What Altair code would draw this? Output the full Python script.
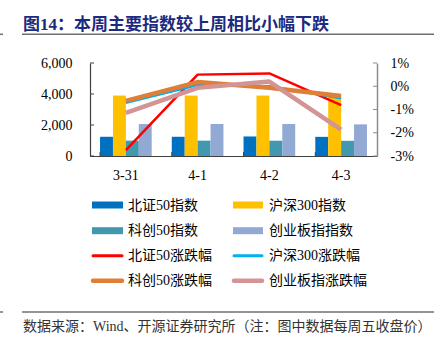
import altair as alt
import pandas as pd

# ---- data ----
cats = ["3-31", "4-1", "4-2", "4-3"]
bar_series = ["北证50指数", "沪深300指数", "科创50指数", "创业板指指数"]
bz50_idx = [1240, 1240, 1260, 1235]
hs300_idx = [3900, 3900, 3900, 3860]
kc50_idx = [990, 990, 985, 980]
cyb_idx = [2060, 2065, 2065, 2040]

line_series = ["北证50涨跌幅", "沪深300涨跌幅", "科创50涨跌幅", "创业板指涨跌幅"]
bz50_chg = [-2.75, 0.50, 0.55, -0.81]
hs300_chg = [-0.71, 0.05, 0.00, -0.52]
kc50_chg = [-0.63, 0.18, -0.06, -0.42]
cyb_chg = [-1.14, -0.07, 0.20, -1.87]

left_ticks = [0, 2000, 4000, 6000]
right_ticks = [-3, -2, -1, 0, 1]

title_text = "图14：本周主要指数较上周相比小幅下跌"
footer_text = "数据来源：Wind、开源证券研究所（注：图中数据每周五收盘价）"

# ---- styles ----
bar_colors = ["#0070C0", "#FFC000", "#4298AF", "#92A9D4"]
line_colors = ["#FF0000", "#00B0F0", "#E07E35", "#D39495"]
line_widths = [2.5, 2.5, 4.5, 4.5]
legend_line_widths = [3, 3, 4.5, 4.5]

W, H = 287, 93
PAD_L, PAD_T = 90, 63
FONT = "Liberation Serif, Noto Sans CJK SC"
AXIS_DARK = "#404040"
AXIS_GRAY = "#8c8c8c"

# ---- tables ----
bar_vals = [bz50_idx, hs300_idx, kc50_idx, cyb_idx]
bar_df = pd.DataFrame(
    [{"cat": c, "series": s, "value": v[i]} for s, v in zip(bar_series, bar_vals) for i, c in enumerate(cats)]
)
line_vals = [bz50_chg, hs300_chg, kc50_chg, cyb_chg]

x_axis = alt.Axis(
    title=None, labelAngle=0, labelFont=FONT, labelFontSize=14, labelColor="#000",
    labelPadding=12, ticks=False, tickSize=0, domainColor=AXIS_DARK, domainWidth=1.2,
)
x_enc = alt.X("cat:N", sort=cats, axis=x_axis,
              scale=alt.Scale(paddingInner=0.28, paddingOuter=0.14))

left_axis = alt.Axis(
    title=None, values=left_ticks, format=",.0f", grid=False, ticks=False, tickSize=0,
    labelPadding=18, labelFont=FONT, labelFontSize=14, labelColor="#000",
    domainColor=AXIS_DARK, domainWidth=1.2,
)
left_scale = alt.Scale(domain=[0, 6000], nice=False)

right_axis = alt.Axis(
    title=None, orient="right", values=right_ticks, grid=False, ticks=False, tickSize=0,
    labelExpr="datum.value + '%'", labelPadding=13, labelFont=FONT, labelFontSize=14,
    labelColor="#000", domainColor=AXIS_GRAY, domainWidth=1.5,
)
right_scale = alt.Scale(domain=[-3, 1], nice=False)

bars = alt.Chart(bar_df).mark_bar().encode(
    x=x_enc,
    xOffset=alt.XOffset("series:N", sort=bar_series, scale=alt.Scale(paddingInner=0, paddingOuter=0)),
    y=alt.Y("value:Q", scale=left_scale, axis=left_axis),
    color=alt.Color("series:N", scale=alt.Scale(domain=bar_series, range=bar_colors), legend=None),
)

lticks = alt.Chart(pd.DataFrame({"value": left_ticks})).mark_rule(color=AXIS_DARK).encode(
    y=alt.Y("value:Q", scale=left_scale, axis=left_axis),
    x=alt.value(0), x2=alt.value(4),
)

xticks = alt.Chart(pd.DataFrame({"cat": cats})).mark_rule(color=AXIS_DARK).encode(
    x=alt.X("cat:N", sort=cats, axis=x_axis, bandPosition=0,
            scale=alt.Scale(paddingInner=0.28, paddingOuter=0.14)),
    y=alt.value(H), y2=alt.value(H - 4),
)

left_group = alt.layer(bars, lticks, xticks)

line_layers = []
for s, vals, col, sw in zip(line_series, line_vals, line_colors, line_widths):
    df = pd.DataFrame({"cat": cats, "pct": vals})
    line_layers.append(
        alt.Chart(df).mark_line(color=col, strokeWidth=sw, strokeJoin="round").encode(
            x=alt.X("cat:N", sort=cats, axis=x_axis),
            y=alt.Y("pct:Q", scale=right_scale, axis=right_axis),
        )
    )

rticks = alt.Chart(pd.DataFrame({"pct": right_ticks})).mark_rule(color=AXIS_GRAY).encode(
    y=alt.Y("pct:Q", scale=right_scale, axis=right_axis),
    x=alt.value(W), x2=alt.value(W - 4),
)

right_group = alt.layer(*line_layers, rticks)

one = pd.DataFrame({"t": [""]})

def text_layer(txt, x, y, size, color, weight="normal", align="left"):
    return alt.Chart(pd.DataFrame({"t": [txt]})).mark_text(
        align=align, baseline="alphabetic", font=FONT, fontSize=size,
        fontWeight=weight, color=color,
    ).encode(x=alt.value(x), y=alt.value(y), text="t:N")

def hrule(x0, x1, y, color, sw):
    return alt.Chart(one).mark_rule(color=color, strokeWidth=sw).encode(
        x=alt.value(x0), x2=alt.value(x1), y=alt.value(y)
    )

decor = [
    text_layer(title_text, 23 - PAD_L, 30 - PAD_T, 17, "#1c2a80", weight="bold"),
    hrule(22 - PAD_L, 434 - PAD_L, 34.3 - PAD_T, "#707070", 1.5),
    hrule(0 - PAD_L, 3 - PAD_L, 34.3 - PAD_T, "#707070", 1.5),
    hrule(22 - PAD_L, 434 - PAD_L, 312 - PAD_T, "#707070", 1.5),
    hrule(0 - PAD_L, 3 - PAD_L, 312 - PAD_T, "#707070", 1.5),
    text_layer(footer_text, 23 - PAD_L, 330.5 - PAD_T, 14, "#333333"),
]

# ---- legend (2 columns x 4 rows) ----
col_sym_x = [(92 - PAD_L, 123 - PAD_L), (233 - PAD_L, 263 - PAD_L)]
col_txt_x = [128 - PAD_L, 269 - PAD_L]
row_y = [205 - PAD_T, 230.7 - PAD_T, 255.7 - PAD_T, 280.7 - PAD_T]

items = []
for i, (s, c) in enumerate(zip(bar_series, bar_colors)):
    items.append(("bar", s, c, 7, i // 2, i % 2))
for i, (s, c, w) in enumerate(zip(line_series, line_colors, legend_line_widths)):
    items.append(("line", s, c, w, 2 + i // 2, i % 2))

for kind, s, c, w, r, k in items:
    x0, x1 = col_sym_x[k]
    yc = row_y[r]
    if kind == "bar":
        decor.append(
            alt.Chart(one).mark_rect(color=c).encode(
                x=alt.value(x0), x2=alt.value(x1), y=alt.value(yc - 3.5), y2=alt.value(yc + 3.5)
            )
        )
    else:
        decor.append(
            alt.Chart(one).mark_rule(color=c, strokeWidth=w, strokeCap="round").encode(
                x=alt.value(x0 + 1), x2=alt.value(x1 - 1), y=alt.value(yc)
            )
        )
    decor.append(
        alt.Chart(pd.DataFrame({"t": [s]})).mark_text(
            align="left", baseline="middle", font=FONT, fontSize=14, color="#000"
        ).encode(x=alt.value(col_txt_x[k]), y=alt.value(yc + 0.5), text="t:N")
    )

chart = alt.layer(left_group, right_group, *decor).resolve_scale(y="independent").properties(
    width=W, height=H,
    padding={"left": PAD_L, "top": PAD_T, "right": 447 - PAD_L - W, "bottom": 352 - PAD_T - H},
    autosize="none", background="white",
).configure_view(stroke=None)

chart.save("out.html", embed_options={"renderer": "svg", "actions": False})
